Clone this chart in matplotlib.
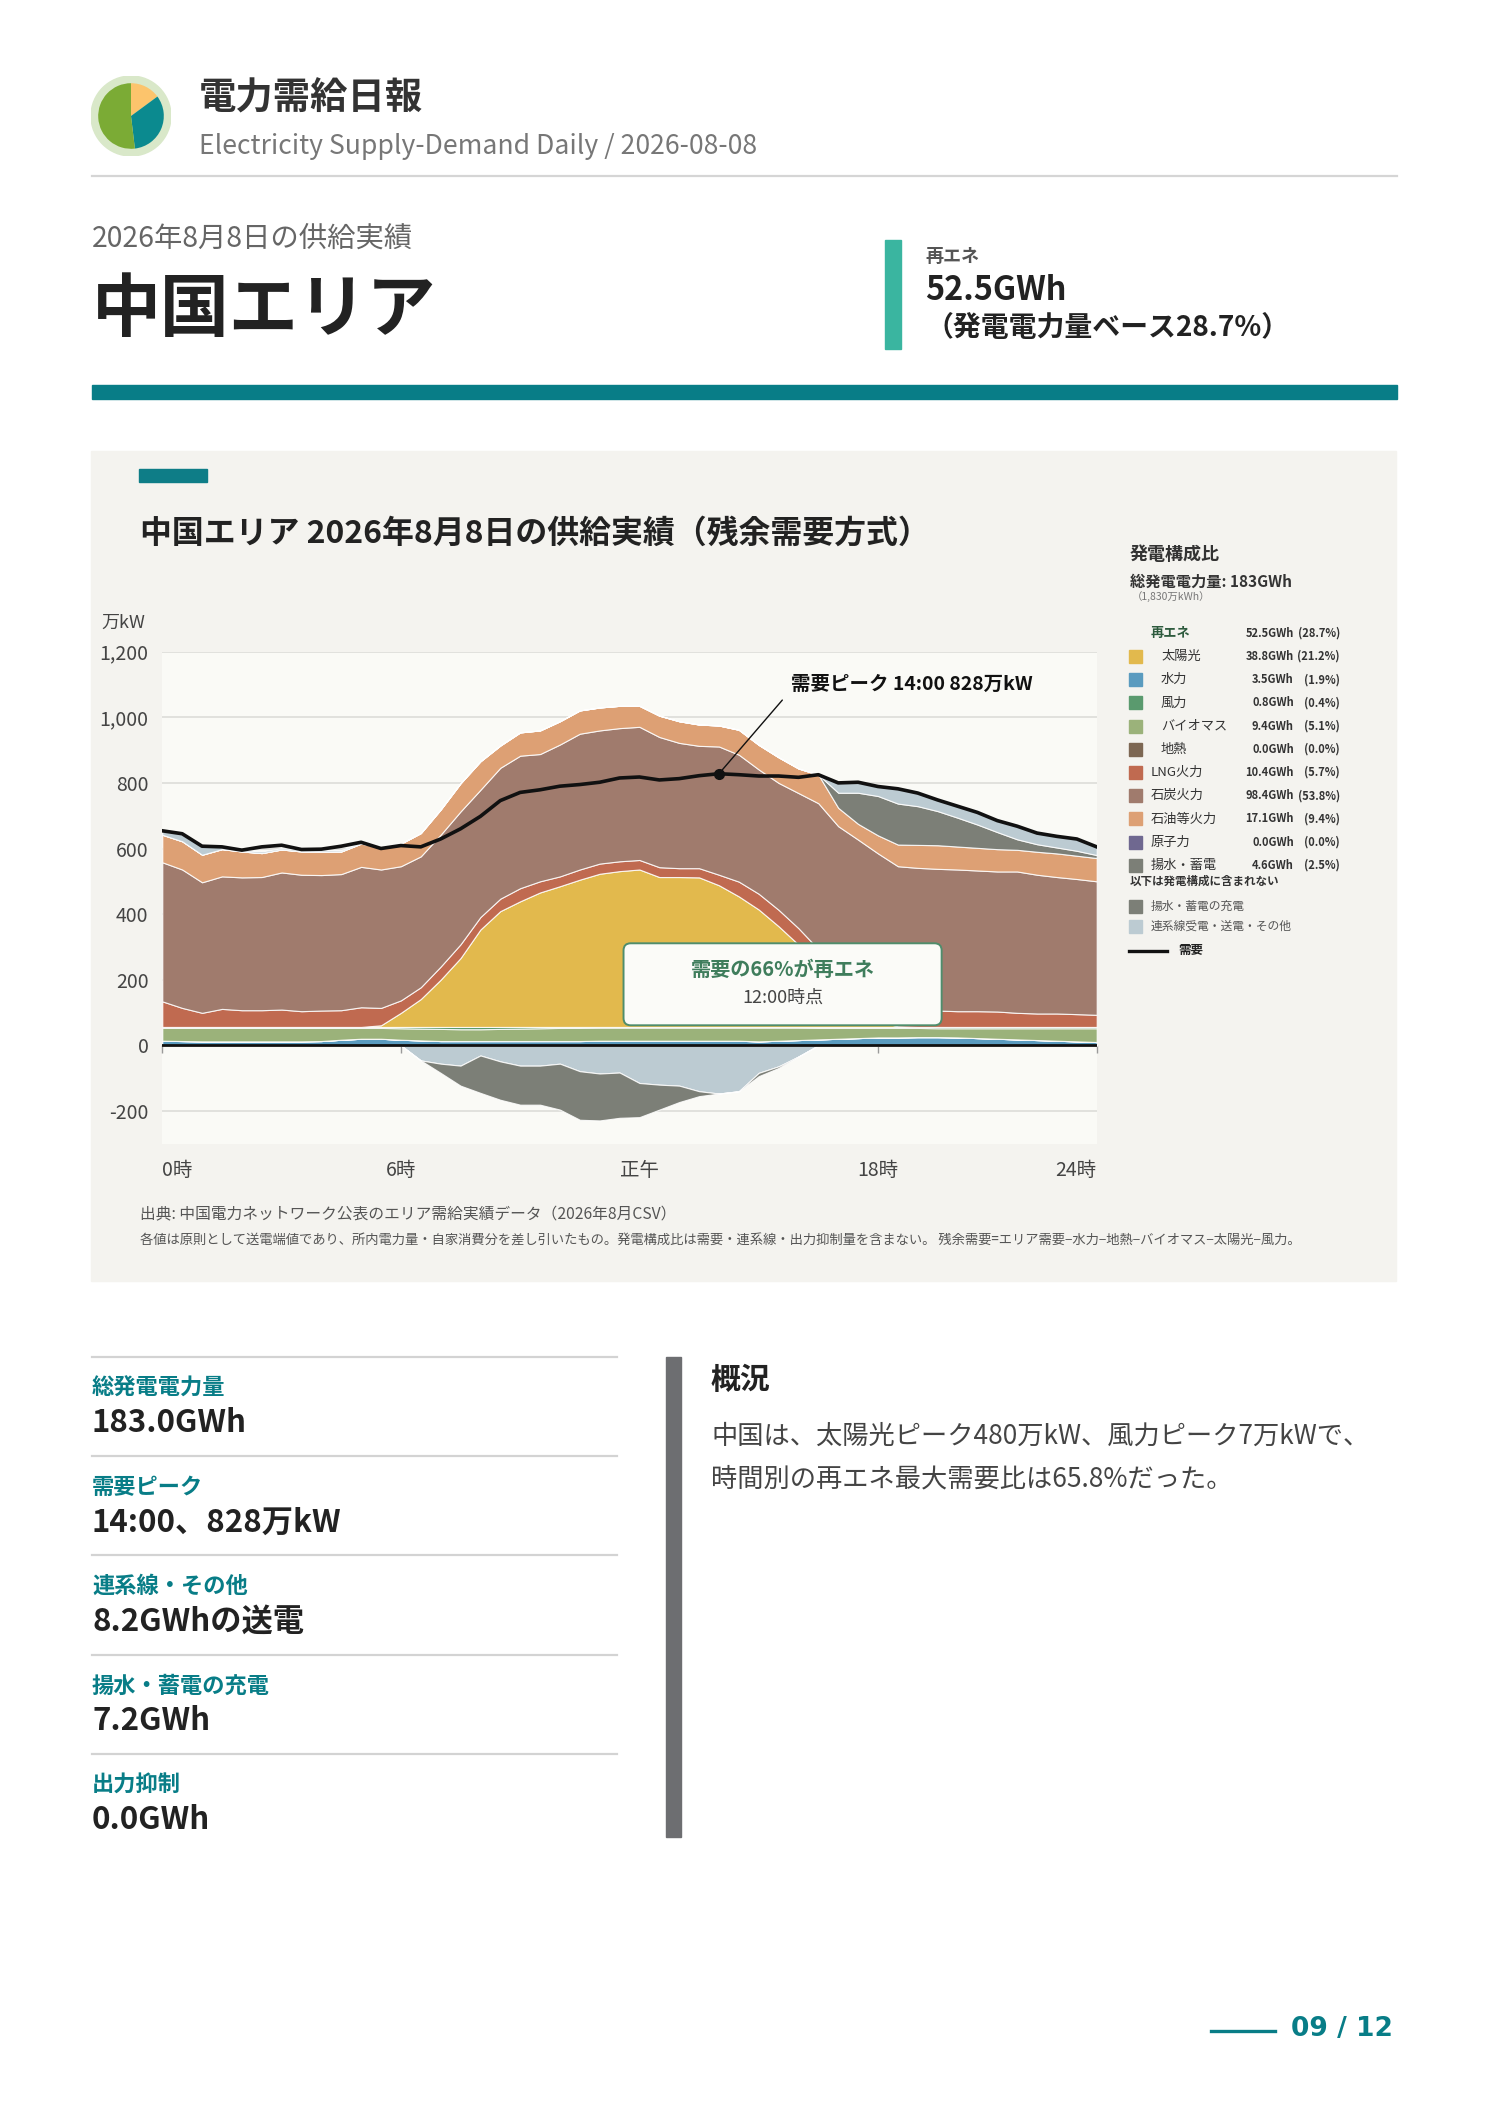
import numpy as np
import matplotlib
matplotlib.use('Agg')
import matplotlib.pyplot as plt
from matplotlib.patches import Rectangle, FancyBboxPatch, Circle

plt.rcParams['font.family'] = ['Noto Sans CJK JP', 'DejaVu Sans']

# ---------------- data ----------------
hours = np.arange(0, 24, 0.5)          # 30-minute steps 0:00 .. 23:30
tick_pos = [0, 6, 12, 18, 23.5]
tick_labels = ['0時', '6時', '正午', '18時', '24時']
y_ticks = [-200, 0, 200, 400, 600, 800, 1000, 1200]

demand = [654, 645, 607, 605, 595, 605, 610, 597, 598, 607,
          619, 600, 609, 605, 629, 660, 698, 746, 771, 779,
          790, 795, 802, 815, 818, 809, 813, 822, 828, 825,
          821, 821, 817, 825, 800, 802, 789, 782, 769, 748,
          729, 710, 685, 668, 647, 637, 629, 605]
hydro = [14, 13, 12, 12, 12, 12, 12, 12, 13, 17,
         20, 20, 17, 15, 13, 13, 13, 13, 13, 13,
         13, 13, 14, 14, 14, 14, 14, 14, 14, 14,
         12, 14, 16, 18, 20, 22, 24, 24, 25, 25,
         24, 22, 20, 18, 16, 14, 12, 10]
nuclear = [0] * 48
geothermal = [0] * 48
biomass = [39, 40, 41, 41, 41, 41, 41, 41, 40, 36,
           33, 33, 35, 36, 37, 36, 36, 37, 38, 39,
           40, 40, 40, 40, 40, 40, 40, 40, 40, 40,
           42, 40, 38, 35, 33, 31, 29, 29, 28, 27,
           28, 30, 32, 34, 36, 38, 40, 42]
wind = [3, 3, 3, 3, 3, 3, 3, 3, 3, 3,
        3, 3, 4, 5, 6, 7, 7, 6, 5, 4,
        3, 3, 2, 2, 2, 2, 2, 2, 2, 2,
        2, 2, 2, 3, 3, 3, 3, 3, 3, 4,
        4, 4, 4, 4, 4, 4, 4, 4]
solar = [0, 0, 0, 0, 0, 0, 0, 0, 0, 0,
         0, 5, 43, 85, 144, 210, 297, 353, 383, 410,
         429, 449, 467, 475, 480, 457, 457, 456, 432, 398,
         358, 307, 251, 185, 114, 53, 17, 2, 0, 0,
         0, 0, 0, 0, 0, 0, 0, 0]
lng = [78, 58, 43, 55, 51, 51, 53, 48, 50, 51,
       60, 53, 38, 36, 40, 42, 38, 38, 40, 34,
       30, 31, 31, 30, 29, 30, 27, 28, 32, 45,
       48, 50, 50, 52, 55, 55, 52, 53, 51, 50,
       48, 48, 47, 43, 41, 41, 39, 37]
coal = [424, 422, 398, 404, 405, 406, 418, 416, 413, 415,
        428, 422, 409, 399, 402, 405, 388, 399, 404, 388,
        402, 414, 406, 406, 406, 397, 382, 373, 391, 387,
        379, 387, 412, 445, 443, 463, 460, 435, 434, 432,
        432, 429, 427, 431, 423, 416, 412, 407]
oil = [84, 86, 84, 83, 79, 73, 70, 71, 72, 69,
       71, 68, 69, 71, 77, 86, 87, 68, 71, 72,
       71, 71, 70, 68, 64, 65, 66, 65, 64, 76,
       75, 78, 75, 87, 56, 48, 55, 66, 70, 72,
       70, 69, 68, 66, 70, 72, 71, 71]
pumped_gen = [0] * 34 + [46, 95, 120, 125, 118, 104, 88, 71, 52, 32, 23, 18, 15, 9]
tie_import = [12, 23, 26, 6, 4, 5, 4, 5, 5, 4, 4, 0] + [0] * 22 + \
             [30, 32, 34, 45, 40, 34, 35, 37, 35, 40, 34, 34, 36, 25]
tie_export = [0] * 13 + [46, 56, 62, 31, 49, 62, 62, 56, 79, 86,
                         83, 115, 120, 123, 140, 147, 140, 84, 64, 34] + [0] * 15
pumped_charge = [0] * 13 + [0, 28, 61, 114, 117, 119, 119, 140, 148, 143,
                            138, 104, 76, 50, 15, 0, 0, 10, 5, 0] + [0] * 15

# legend / composition
gen_labels = ['太陽光', '水力', '風力', 'バイオマス', '地熱',
              'LNG火力', '石炭火力', '石油等火力', '原子力', '揚水・蓄電']
gen_gwh = [38.8, 3.5, 0.8, 9.4, 0.0, 10.4, 98.4, 17.1, 0.0, 4.6]
gen_pct = [21.2, 1.9, 0.4, 5.1, 0.0, 5.7, 53.8, 9.4, 0.0, 2.5]
gen_renew = [True, True, True, True, True, False, False, False, False, False]
renew_gwh, renew_pct = 52.5, 28.7
other_labels = ['揚水・蓄電の充電', '連系線受電・送電・その他']

stat_labels = ['総発電電力量', '需要ピーク', '連系線・その他', '揚水・蓄電の充電', '出力抑制']
stat_values = ['183.0GWh', '14:00、828万kW', '8.2GWhの送電', '7.2GWh', '0.0GWh']

logo_shares = [14.9, 33.2, 51.9]

# colours
C = {'solar': '#e2b94d', 'hydro': '#5a9bbf', 'wind': '#5a9a6e', 'biomass': '#9bb27a',
     'geo': '#7d6753', 'lng': '#c06a50', 'coal': '#a07b6d', 'oil': '#dda074',
     'nuclear': '#6f6890', 'pumped': '#7c7f77', 'tie': '#bccbd2'}
gen_colors = [C['solar'], C['hydro'], C['wind'], C['biomass'], C['geo'],
              C['lng'], C['coal'], C['oil'], C['nuclear'], C['pumped']]
TEAL = '#087d87'

# ---------------- figure ----------------
W, H, DPI = 1488, 2105, 100
fig = plt.figure(figsize=(W / DPI, H / DPI), dpi=DPI)
fig.patch.set_facecolor('white')
bg = fig.add_axes([0, 0, 1, 1], zorder=0)
bg.set_xlim(0, W)
bg.set_ylim(H, 0)
bg.axis('off')
renderer = fig.canvas.get_renderer()


def txt(x, y, s, size, color='#333', weight='normal', ha='left', va='center', fit=None, **kw):
    t = bg.text(x, y, s, fontsize=size, color=color, fontweight=weight, ha=ha, va=va, **kw)
    if fit:
        w = t.get_window_extent(renderer).width
        t.set_fontsize(size * fit / w)
    return t


# ---- header ----
lax = fig.add_axes([(131 - 40) / W, 1 - (116 + 40) / H, 80 / W, 80 / H], zorder=1)
lax.add_patch(Circle((0, 0), 1.0, color='#d9e8c9'))
lax.pie(logo_shares, colors=['#fcc46c', '#0b8a8f', '#7bab35'], radius=0.82,
        startangle=90, counterclock=False)
lax.set_xlim(-1, 1)
lax.set_ylim(-1, 1)
lax.set_aspect('equal')
lax.axis('off')

txt(199, 98, '電力需給日報', 27, '#333', 'bold', fit=224)
txt(199, 147, 'Electricity Supply-Demand Daily / 2026-08-08', 15, '#777', fit=557)
bg.plot([92, 1397], [175.5, 175.5], color='#d5d5d5', lw=1.6)

txt(92, 239, '2026年8月8日の供給実績', 18, '#666', fit=321)
txt(92, 311, '中国エリア', 50, '#222', 'bold', fit=345)
bg.add_patch(Rectangle((885, 240), 16, 109, color='#3ab5a0'))
txt(925, 256, '再エネ', 13, '#555', 'bold')
txt(925, 290, '52.5GWh', 20, '#222', 'bold', fit=142)
txt(925, 328, '（発電電力量ベース28.7%）', 19.5, '#222', 'bold', fit=365)
bg.add_patch(Rectangle((92, 385), 1305, 14, color=TEAL))

# ---- chart panel ----
bg.add_patch(Rectangle((91, 451), 1305, 830, color='#f4f3ef'))
bg.add_patch(Rectangle((139, 469), 68, 13, color='#0e7d87'))
txt(140, 534, '中国エリア 2026年8月8日の供給実績（残余需要方式）', 22.5, '#222', 'bold', fit=791)
txt(101, 623, '万kW', 13, '#444')

L, R, T, B = 162.3, 1096.7, 651.7, 1143.7
ax = fig.add_axes([L / W, 1 - B / H, (R - L) / W, (B - T) / H], zorder=2)
ax.set_facecolor('#fafaf6')
ax.set_xlim(0, 23.5)
ax.set_ylim(-300, 1200)
ax.set_yticks(y_ticks)
ax.set_yticklabels([f'{v:,}' for v in y_ticks])
ax.set_xticks(tick_pos)
ax.set_xticklabels(tick_labels)
xl = ax.get_xticklabels()
xl[0].set_ha('left')
xl[-1].set_ha('right')
ax.tick_params(axis='y', length=0, pad=10, labelsize=14, labelcolor='#444')
ax.tick_params(axis='x', length=0, pad=12, labelsize=14, labelcolor='#444')
ax.grid(axis='y', color='#dcdcd8', lw=1.2)
ax.set_axisbelow(True)
for s in ax.spines.values():
    s.set_visible(False)

pos_series = [hydro, nuclear, geothermal, biomass, wind, solar, lng, coal, oil, pumped_gen, tie_import]
pos_colors = [C['hydro'], C['nuclear'], C['geo'], C['biomass'], C['wind'], C['solar'],
              C['lng'], C['coal'], C['oil'], C['pumped'], C['tie']]
ax.stackplot(hours, *pos_series, colors=pos_colors, edgecolor=(1, 1, 1, 0.85), linewidth=0.8, zorder=2)
ax.stackplot(hours, -np.array(tie_export), -np.array(pumped_charge),
             colors=[C['tie'], C['pumped']], edgecolor=(1, 1, 1, 0.85), linewidth=0.8, zorder=2)
ax.axhline(0, color='#111', lw=2.0, zorder=4)
ax.plot(hours, demand, color='#111', lw=2.6, zorder=5, solid_joinstyle='round')

ip = int(np.argmax(demand))
ax.plot(hours[ip], demand[ip], 'o', ms=7, color='#111', zorder=6)
ax.annotate(f'需要ピーク 14:00 {demand[ip]}万kW', xy=(hours[ip], demand[ip]), xytext=(15.8, 1099),
            fontsize=14, fontweight='bold', color='#111', va='center', ha='left', zorder=8,
            arrowprops=dict(arrowstyle='-', color='#111', lw=1.0, shrinkA=6, shrinkB=0,
                            relpos=(0, 0.2)))

sec = ax.secondary_xaxis(0.2)
sec.set_xticks(tick_pos)
sec.tick_params(axis='x', length=6, width=1, color='#9a9a9a', direction='out',
                labelbottom=False, labeltop=False)
for s in sec.spines.values():
    s.set_visible(False)

box = FancyBboxPatch((11.6, 61), 8.0, 250, boxstyle='round,pad=0,rounding_size=0.18',
                     mutation_aspect=121, fc='#fbfbf8', ec='#4f8d6c', lw=1.4, zorder=7)
ax.add_patch(box)
ax.text(15.6, 232, '需要の66%が再エネ', fontsize=14.5, fontweight='bold', color='#3f7d5c',
        ha='center', va='center', zorder=8)
ax.text(15.6, 146, '12:00時点', fontsize=13, color='#444', ha='center', va='center', zorder=8)

# ---- legend (right side of panel) ----
txt(1130, 555, '発電構成比', 13, '#333', 'bold')
txt(1130, 582, f'総発電電力量: {sum(gen_gwh):.0f}GWh', 11, '#333', 'bold')
txt(1132, 597, '（1,830万kWh）', 7.5, '#777')
row_y0, row_dy = 633.3, 23.2
txt(1151, row_y0, '再エネ', 9.5, '#2d5a3d', 'bold')
txt(1294, row_y0, f'{renew_gwh:.1f}GWh', 8, '#333', 'bold', ha='right')
txt(1340, row_y0, f'({renew_pct:.1f}%)', 8, '#333', 'bold', ha='right')
for i, (lab, g, p, col, rn) in enumerate(zip(gen_labels, gen_gwh, gen_pct, gen_colors, gen_renew)):
    y = row_y0 + row_dy * (i + 1)
    bg.add_patch(Rectangle((1129, y - 6.5), 13, 13, color=col))
    txt(1161 if rn else 1151, y, lab, 9.5, '#333')
    txt(1294, y, f'{g:.1f}GWh', 8, '#333', 'bold', ha='right')
    txt(1340, y, f'({p:.1f}%)', 8, '#333', 'bold', ha='right')
txt(1130, 881.7, '以下は発電構成に含まれない', 8.3, '#333', 'bold')
for lab, col, y in zip(other_labels, [C['pumped'], C['tie']], [906.7, 926]):
    bg.add_patch(Rectangle((1129, y - 6.5), 13, 13, color=col))
    txt(1151, y, lab, 8.5, '#555')
bg.plot([1129, 1167], [950.7, 950.7], color='#111', lw=2.4)
txt(1178, 950.7, '需要', 9, '#222', 'bold')

# ---- footnotes ----
txt(140, 1215, '出典: 中国電力ネットワーク公表のエリア需給実績データ（2026年8月CSV）', 11, '#555', fit=534)
txt(140, 1241, '各値は原則として送電端値であり、所内電力量・自家消費分を差し引いたもの。'
               '発電構成比は需要・連系線・出力抑制量を含まない。 '
               '残余需要=エリア需要−水力−地熱−バイオマス−太陽光−風力。', 9.5, '#555', fit=1171)

# ---- stats ----
line_ys = [1356.5, 1455.8, 1554.7, 1654.9, 1753.7]
for y in line_ys:
    bg.plot([92, 617], [y, y], color='#d3d3d3', lw=1.6)
for i, (lab, val) in enumerate(zip(stat_labels, stat_values)):
    y0 = 1388 + 99.3 * i
    txt(92, y0, lab, 16, TEAL, 'bold')
    txt(92, y0 + 35, val, 22.5, '#222', 'bold')

bg.add_patch(Rectangle((666, 1356.5), 15, 480.5, color='#6d6e71'))
txt(711, 1379.5, '概況', 21.5, '#222', 'bold')
txt(711, 1436, '中国は、太陽光ピーク480万kW、風力ピーク7万kWで、', 18.5, '#444', fit=660)
txt(711, 1479, '時間別の再エネ最大需要比は65.8%だった。', 18.9, '#444')

# ---- footer ----
bg.plot([1211, 1275], [2030.7, 2030.7], color=TEAL, lw=2.4)
txt(1393, 2029, '09 / 12', 19, TEAL, 'bold', ha='right', fit=102, family='DejaVu Sans')

fig.savefig('out.png', dpi=DPI, facecolor='white')
